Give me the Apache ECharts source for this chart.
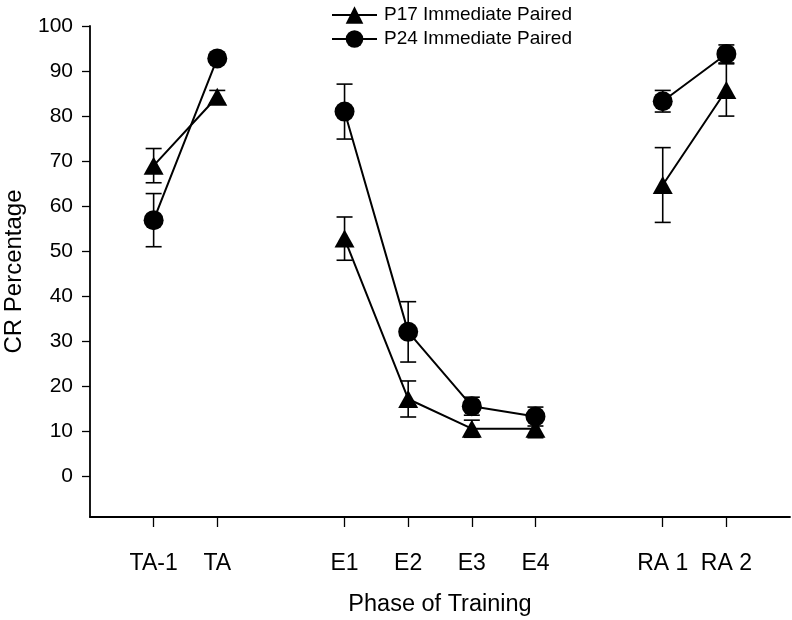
<!DOCTYPE html>
<html>
<head>
<meta charset="utf-8">
<script src="https://cdn.jsdelivr.net/npm/echarts@6/dist/echarts.min.js"></script>
<style>html,body{margin:0;padding:0;background:#fff}#c{width:792px;height:620px}</style>
</head>
<body>
<div id="c"></div>
<script>
// Phases of training and their positions on the x scale
var phases = ['TA-1', 'TA', 'E1', 'E2', 'E3', 'E4', 'RA 1', 'RA 2'];
var phasePos = [1, 2, 4, 5, 6, 7, 9, 10];
var phaseGroup = [0, 0, 1, 1, 1, 1, 2, 2];
// Series values (CR percentage) and error (SEM)
var p17Values = [69.0, 84.3, 52.8, 17.2, 10.6, 10.6, 64.7, 85.8];
var p17Errors = [3.8, 1.4, 4.8, 4.0, 1.9, 2.0, 8.3, 5.8];
var p24Values = [56.9, 92.8, 81.0, 32.1, 15.6, 13.3, 83.3, 93.8];
var p24Errors = [5.9, 1.0, 6.1, 6.7, 2.0, 2.1, 2.4, 2.0];
var yTicks = [0, 10, 20, 30, 40, 50, 60, 70, 80, 90, 100];

var FONT = 'Liberation Sans, Arial, sans-serif';

function lineData(vals) {
  var out = [];
  for (var i = 0; i < vals.length; i++) {
    if (i > 0 && phaseGroup[i] !== phaseGroup[i - 1]) out.push('-');
    out.push([phasePos[i], vals[i]]);
  }
  return out;
}
function errData(vals, errs) {
  return vals.map(function (v, i) { return [phasePos[i], v - errs[i], v + errs[i]]; });
}
function errRender(params, api) {
  var x = api.value(0);
  var lo = api.coord([x, api.value(1)]);
  var hi = api.coord([x, api.value(2)]);
  var hw = 8;
  var st = { stroke: '#000', lineWidth: 1.6 };
  return {
    type: 'group',
    children: [
      { type: 'line', shape: { x1: lo[0], y1: lo[1], x2: hi[0], y2: hi[1] }, style: st },
      { type: 'line', shape: { x1: lo[0] - hw, y1: lo[1], x2: lo[0] + hw, y2: lo[1] }, style: st },
      { type: 'line', shape: { x1: hi[0] - hw, y1: hi[1], x2: hi[0] + hw, y2: hi[1] }, style: st }
    ]
  };
}
var labelMap = {};
phasePos.forEach(function (p, i) { labelMap[p] = phases[i]; });

var chart = echarts.init(document.getElementById('c'), null, { renderer: 'canvas' });
chart.setOption({
  animation: false,
  backgroundColor: '#fff',
  textStyle: { fontFamily: FONT, color: '#000' },
  legend: {
    orient: 'vertical',
    left: 326,
    top: -1,
    itemWidth: 45,
    itemHeight: 22,
    itemGap: 2,
    textStyle: { fontFamily: FONT, fontSize: 19, lineHeight: 22, color: '#000', padding: [0, 0, 0, 2] },
    data: ['P17 Immediate Paired', 'P24 Immediate Paired']
  },
  grid: { left: 90, right: 2, top: 26, bottom: 103, containLabel: false, outerBoundsMode: 'none' },
  xAxis: {
    type: 'value',
    min: 0,
    max: 11,
    name: 'Phase of Training',
    nameLocation: 'middle',
    nameGap: 76,
    nameTextStyle: { fontFamily: FONT, fontSize: 23.5, color: '#000' },
    axisLine: { show: true, onZero: false, lineStyle: { color: '#000', width: 1.8 } },
    axisTick: { show: true, length: 10, lineStyle: { color: '#000', width: 1.3 }, customValues: phasePos },
    axisLabel: {
      margin: 35,
      fontFamily: FONT, fontSize: 23, color: '#000',
      customValues: phasePos,
      formatter: function (v) { return labelMap[v] || ''; }
    },
    splitLine: { show: false }
  },
  yAxis: {
    type: 'value',
    min: -9,
    max: 100,
    name: 'CR Percentage',
    nameLocation: 'middle',
    nameGap: 64,
    nameTextStyle: { fontFamily: FONT, fontSize: 24, color: '#000' },
    axisLine: { show: true, onZero: false, lineStyle: { color: '#000', width: 1.8 } },
    axisTick: { show: true, length: 8, lineStyle: { color: '#000', width: 1.3 }, customValues: yTicks },
    axisLabel: { margin: 17, fontFamily: FONT, fontSize: 21, color: '#000', customValues: yTicks },
    splitLine: { show: false }
  },
  series: [
    {
      type: 'custom', name: 'err17', renderItem: errRender, data: errData(p17Values, p17Errors),
      encode: { x: 0, y: [1, 2] }, z: 1, silent: true
    },
    {
      type: 'custom', name: 'err24', renderItem: errRender, data: errData(p24Values, p24Errors),
      encode: { x: 0, y: [1, 2] }, z: 1, silent: true
    },
    {
      type: 'line', name: 'P17 Immediate Paired', data: lineData(p17Values),
      symbol: 'triangle', symbolSize: [20, 18],
      lineStyle: { color: '#000', width: 2 },
      itemStyle: { color: '#000', borderWidth: 0 },
      connectNulls: false, z: 3
    },
    {
      type: 'line', name: 'P24 Immediate Paired', data: lineData(p24Values),
      symbol: 'circle', symbolSize: 20,
      lineStyle: { color: '#000', width: 2 },
      itemStyle: { color: '#000', borderWidth: 0 },
      connectNulls: false, z: 3
    }
  ]
});
</script>
</body>
</html>
